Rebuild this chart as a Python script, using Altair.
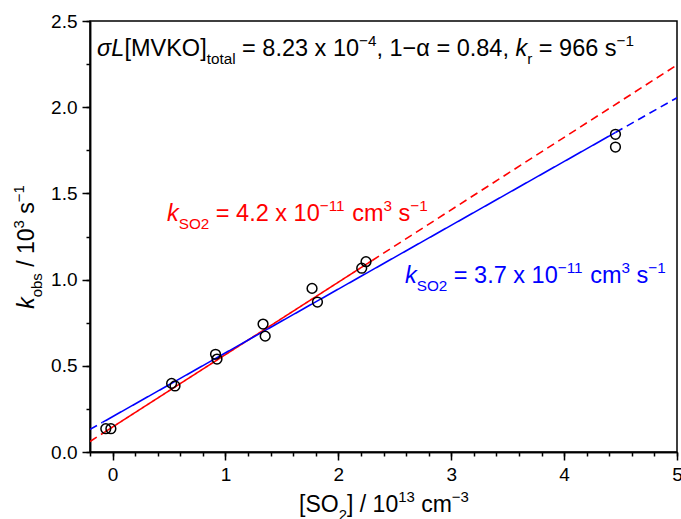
import altair as alt
import pandas as pd

# ---- measured pseudo-first-order rates ----
so2 = [-0.06, -0.015, 0.523, 0.553, 0.912, 0.925, 1.333, 1.352,
       1.767, 1.815, 2.207, 2.245, 4.455, 4.455]          # 10^13 cm^-3
kobs = [0.135, 0.135, 0.398, 0.383, 0.567, 0.539, 0.742, 0.672,
        0.949, 0.870, 1.066, 1.104, 1.843, 1.769]          # 10^3 s^-1

# ---- linear fits: k_SO2 (10^-11 cm3 s-1) -> slope 0.1*k in these units ----
fit_names = ["red", "blue"]
fit_k = [4.2, 3.7]
fit_b = [0.145, 0.205]
fit_lo = [-0.07, -0.09]
fit_hi = [2.30, 4.455]
fit_colors = ["#ff0000", "#0000ff"]

x_min, x_max = -0.2, 5.0
y_min, y_max = 0.0, 2.5
x_major_ticks = [0, 1, 2, 3, 4, 5]
x_minor_ticks = [round(-0.2 + 0.2 * i, 1) for i in range(27)]
y_major_ticks = [0.0, 0.5, 1.0, 1.5, 2.0, 2.5]
y_minor_ticks = [round(0.25 * i, 2) for i in range(11)]

W, H = 587, 431
FONT = "Liberation Sans"
MINUS = "\u2212"

# ---- line segments (solid over fitted range, dashed extrapolation) ----
rows = []
for name, k, b, lo, hi in zip(fit_names, fit_k, fit_b, fit_lo, fit_hi):
    slope = k / 10.0
    for seg, style, xa, xb in [("L", "dash", x_min, lo), ("M", "solid", lo, hi), ("R", "dash", hi, x_max)]:
        for xv in (xa, xb):
            rows.append({"fit": name, "seg": name + seg, "style": style, "x": xv, "y": b + slope * xv})
lines_df = pd.DataFrame(rows)
pts_df = pd.DataFrame({"x": so2, "y": kobs})

# ---- rich text layout using Arial/Liberation Sans advance widths ----
ADV = {" ": 278, ".": 278, ",": 278, "=": 584, "x": 500, MINUS: 584, "[": 278,
       "]": 278, "/": 278, "S": 667, "O": 778, "M": 833, "V": 667, "K": 667, "L": 556,
       "c": 500, "m": 833, "s": 500, "k": 500, "o": 556, "b": 556, "t": 278, "a": 556,
       "l": 222, "r": 333, "\u03c3": 610, "\u03b1": 580}


def text_width(s, size):
    return sum(ADV.get(ch, 556) for ch in s) * size / 1000.0


SUB, SUP = 0.65, 0.65


def piece_size(kind, size):
    return size if kind == "n" else size * (SUB if kind == "sub" else SUP)


def layout(pieces, x0, y0, size, color, vertical=False):
    """pieces: (text, kind, italic); kind in n/sub/sup. Returns rows in plot pixels.
    Edge spaces are turned into advances, since SVG drops them."""
    out = []
    pos = 0.0
    for txt, kind, ital in pieces:
        fs = piece_size(kind, size)
        lead = len(txt) - len(txt.lstrip(" "))
        trail = len(txt) - len(txt.rstrip(" "))
        core = txt.strip(" ")
        pos += text_width(" " * lead, fs)
        shift = {"n": 0.0, "sub": 0.33 * size, "sup": -0.42 * size}[kind]
        if vertical:
            px, py = x0 + shift, y0 - pos
        else:
            px, py = x0 + pos, y0 + shift
        out.append({"px": px, "py": py, "t": core, "fs": fs, "col": color,
                    "it": ital, "ang": 270 if vertical else 0})
        pos += text_width(core, fs) + text_width(" " * trail, fs)
    return out


def total_width(pieces, size):
    return sum(text_width(t, piece_size(k, size)) for t, k, _ in pieces)


top_note = [("\u03c3L", "n", True), ("[MVKO]", "n", False), ("total", "sub", False),
            (" = 8.23 x 10", "n", False), (MINUS + "4", "sup", False),
            (", 1" + MINUS + "\u03b1 = 0.84, ", "n", False), ("k", "n", True),
            ("r", "sub", False), (" = 966 s", "n", False), (MINUS + "1", "sup", False)]


def k_label(val):
    return [("k", "n", True), ("SO2", "sub", False), (f" = {val} x 10", "n", False),
            (MINUS + "11", "sup", False), (" cm", "n", False), ("3", "sup", False),
            (" s", "n", False), (MINUS + "1", "sup", False)]


x_title = [("[SO", "n", False), ("2", "sub", False), ("] / 10", "n", False),
           ("13", "sup", False), (" cm", "n", False), (MINUS + "3", "sup", False)]
y_title = [("k", "n", True), ("obs", "sub", False), (" / 10", "n", False),
           ("3", "sup", False), (" s", "n", False), (MINUS + "1", "sup", False)]

ANN = 23.5
TTL = 23
text_rows = []
text_rows += layout(top_note, 7, 35, ANN, "black")
text_rows += layout(k_label(fit_k[0]), 77, 200, ANN, fit_colors[0])
text_rows += layout(k_label(fit_k[1]), 315, 262, ANN, fit_colors[1])
text_rows += layout(x_title, 294 - total_width(x_title, TTL) / 2, 491, TTL, "black")
text_rows += layout(y_title, -56, 226 + total_width(y_title, TTL) / 2, TTL, "black", vertical=True)
text_df = pd.DataFrame(text_rows)

x_scale = alt.Scale(domain=[x_min, x_max], nice=False, zero=False)
y_scale = alt.Scale(domain=[y_min, y_max], nice=False, zero=False)

common = dict(title=None, grid=False, domainColor="black", domainWidth=1.5,
              tickColor="black", tickWidth=1.5, labelFont=FONT, labelFontSize=19,
              labelColor="black", labelFlush=False, labelOverlap=False)

# major axes with labels
x_major = alt.Axis(values=x_major_ticks, orient="bottom", tickSize=8, labelPadding=5,
                   format="d", **common)
y_major = alt.Axis(values=y_major_ticks, orient="left", tickSize=8, labelPadding=5,
                   format=".1f", **common)
# minor tick axes, no labels
x_minor = alt.Axis(values=x_minor_ticks, orient="bottom", tickSize=4, labels=False,
                   **common)
y_minor = alt.Axis(values=y_minor_ticks, orient="left", tickSize=4, labels=False,
                   **common)

lines = alt.Chart(lines_df).mark_line(strokeWidth=1.6, clip=True).encode(
    x=alt.X("x:Q", scale=x_scale, axis=x_major),
    y=alt.Y("y:Q", scale=y_scale, axis=y_major),
    color=alt.Color("fit:N", scale=alt.Scale(domain=fit_names, range=fit_colors), legend=None),
    strokeDash=alt.StrokeDash("style:N", scale=alt.Scale(domain=["solid", "dash"],
                                                         range=[[1, 0], [8, 5]]), legend=None),
    detail="seg:N",
)

points = alt.Chart(pts_df).mark_point(shape="circle", filled=False, size=95, opacity=1,
                                      color="black", strokeWidth=1.5).encode(
    x=alt.X("x:Q", scale=x_scale, axis=x_minor),
    y=alt.Y("y:Q", scale=y_scale, axis=y_minor),
)


def text_layer(italic):
    return alt.Chart(text_df[text_df["it"] == italic]).mark_text(
        font=FONT, align="left", baseline="alphabetic",
        fontStyle="italic" if italic else "normal").encode(
        x=alt.X("px:Q", scale=None), y=alt.Y("py:Q", scale=None),
        text="t:N", size=alt.Size("fs:Q", scale=None),
        color=alt.Color("col:N", scale=None), angle=alt.Angle("ang:Q", scale=None))


chart = alt.layer(lines, points, text_layer(False), text_layer(True)).resolve_axis(
    x="independent", y="independent"
).properties(
    width=W, height=H, autosize="none",
    padding={"left": 90, "top": 21, "right": 4, "bottom": 67},
).configure_view(stroke="black", strokeWidth=1.5)

chart.save("out.html", embed_options={"renderer": "svg", "actions": False})
